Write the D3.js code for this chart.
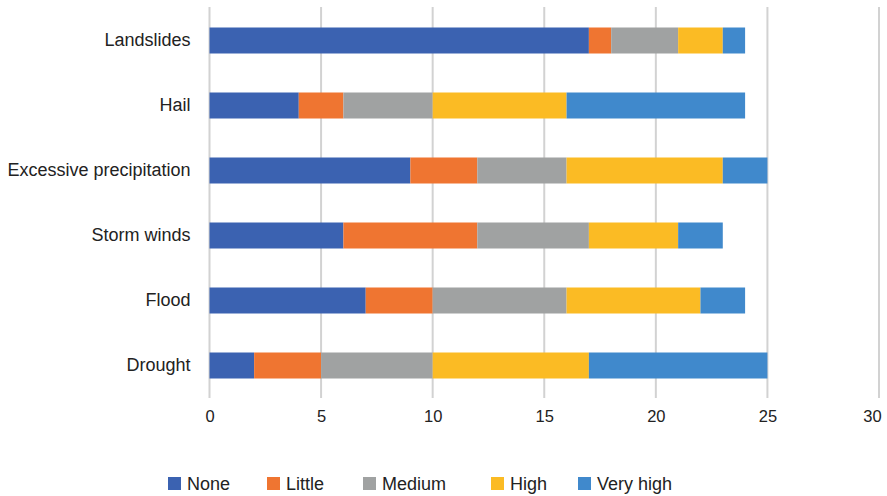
<!DOCTYPE html>
<html>
<head>
<meta charset="utf-8">
<script src="https://cdn.jsdelivr.net/npm/d3@7"></script>
<style>
  body { margin: 0; background: #fff; }
  svg { display: block; font-family: "Liberation Sans", Arial, sans-serif; }
</style>
</head>
<body>
<svg id="chart" width="887" height="496"></svg>
<script>
// Hazard categories (top to bottom) and the number of responses per rating
const categories = ["Landslides", "Hail", "Excessive precipitation", "Storm winds", "Flood", "Drought"];
const seriesNames = ["None", "Little", "Medium", "High", "Very high"];
const none     = [17, 4, 9, 6, 7, 2];
const little   = [1, 2, 3, 6, 3, 3];
const medium   = [3, 4, 4, 5, 6, 5];
const high     = [2, 6, 7, 4, 6, 7];
const veryHigh = [1, 8, 2, 2, 2, 8];
const xTicks = [0, 5, 10, 15, 20, 25, 30];
const colors = ["#3b62b1", "#ef7531", "#a0a2a2", "#fbbb24", "#4089cc"];

const rows = categories.map((c, i) => ({
  category: c,
  None: none[i], Little: little[i], Medium: medium[i], High: high[i], "Very high": veryHigh[i]
}));

const svg = d3.select("#chart");
const font = '"Liberation Sans", Arial, sans-serif';

const x = d3.scaleLinear().domain([0, 30]).range([209.5, 879]);
const y = d3.scaleBand().domain(categories).range([8, 398]).paddingInner(0.6).paddingOuter(0.3);
const color = d3.scaleOrdinal().domain(seriesNames).range(colors);

// vertical gridlines
svg.append("g")
  .selectAll("line")
  .data(xTicks)
  .join("line")
  .attr("x1", d => x(d)).attr("x2", d => x(d))
  .attr("y1", 7).attr("y2", 398)
  .attr("stroke", "#d2d2d2")
  .attr("stroke-width", 2);

// stacked bars
const stacked = d3.stack().keys(seriesNames)(rows);
svg.append("g")
  .selectAll("g")
  .data(stacked)
  .join("g")
  .attr("fill", d => color(d.key))
  .selectAll("rect")
  .data(d => d)
  .join("rect")
  .attr("x", d => x(d[0]))
  .attr("width", d => x(d[1]) - x(d[0]))
  .attr("y", d => y(d.data.category))
  .attr("height", y.bandwidth());

// x axis labels; the last one is nudged left so it stays inside the frame
const xAxis = d3.axisBottom(x).tickValues(xTicks).tickSize(0).tickPadding(0);
const gx = svg.append("g").attr("transform", "translate(0,410)").call(xAxis);
gx.select(".domain").remove();
gx.selectAll("text").attr("font-size", 16.5).attr("fill", "#222").attr("dy", "0.71em")
  .attr("font-family", font)
  .attr("dx", d => d === 30 ? -7 : 0);

// category labels
const yAxis = d3.axisLeft(y).tickSize(0).tickPadding(19);
const gy = svg.append("g").attr("transform", `translate(${x(0)},0)`).call(yAxis);
gy.select(".domain").remove();
gy.selectAll("text").attr("font-size", 18).attr("fill", "#222")
  .attr("font-family", font);

// legend
const legendX = [168, 267, 363, 491, 578];
const legend = svg.append("g").attr("transform", "translate(0,484)");
const items = legend.selectAll("g").data(seriesNames).join("g")
  .attr("transform", (d, i) => `translate(${legendX[i]},0)`);
items.append("rect").attr("x", 0).attr("y", -7).attr("width", 13).attr("height", 13)
  .attr("fill", d => color(d));
items.append("text").attr("x", 19).attr("y", 0).attr("dy", "0.35em")
  .attr("font-size", 18).attr("fill", "#222").attr("font-family", font).text(d => d);
</script>
</body>
</html>
